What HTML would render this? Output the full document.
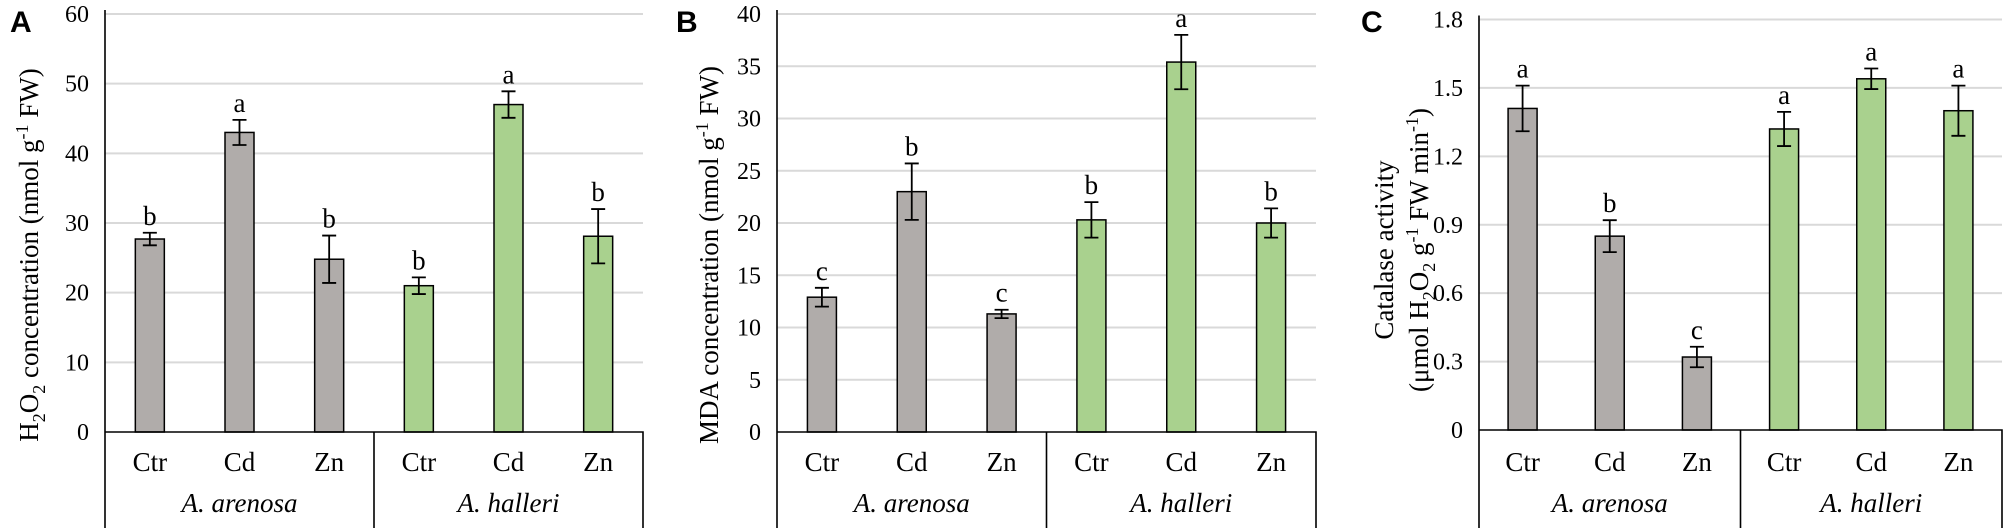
<!DOCTYPE html>
<html><head><meta charset="utf-8"><style>
body{margin:0;background:#fff;}
svg{display:block;font-family:"Liberation Serif",serif;}
</style></head><body>
<svg id="c" width="2008" height="528" viewBox="0 0 2008 528">
<text x="10" y="32" font-family="Liberation Sans,sans-serif" font-weight="bold" font-size="30">A</text>
<text x="676" y="32" font-family="Liberation Sans,sans-serif" font-weight="bold" font-size="30">B</text>
<text x="1361" y="32" font-family="Liberation Sans,sans-serif" font-weight="bold" font-size="30">C</text>
<text transform="translate(38,255) rotate(-90)" text-anchor="middle" font-size="27">H<tspan font-size="18" dy="7">2</tspan><tspan dy="-7">O</tspan><tspan font-size="18" dy="7">2</tspan><tspan dy="-7"> concentration (nmol g</tspan><tspan font-size="18" dy="-10">-1</tspan><tspan dy="10"> FW)</tspan></text>
<text transform="translate(718,255) rotate(-90)" text-anchor="middle" font-size="27">MDA concentration (nmol g<tspan font-size="18" dy="-10">-1</tspan><tspan dy="10"> FW)</tspan></text>
<text transform="translate(1393,250) rotate(-90)" text-anchor="middle" font-size="27">Catalase activity</text>
<text transform="translate(1428,250) rotate(-90)" text-anchor="middle" font-size="27">(μmol H<tspan font-size="18" dy="7">2</tspan><tspan dy="-7">O</tspan><tspan font-size="18" dy="7">2</tspan><tspan dy="-7">  g</tspan><tspan font-size="18" dy="-10">-1</tspan><tspan dy="10"> FW min</tspan><tspan font-size="18" dy="-10">-1</tspan><tspan dy="10">)</tspan></text>
</svg>
<script>
const categories=["Ctr","Cd","Zn","Ctr","Cd","Zn"];
const species=["A. arenosa","A. halleri"];
const h2o2Values=[27.7,43,24.8,21,47,28.1];
const h2o2Errors=[0.9,1.8,3.4,1.2,1.9,3.9];
const h2o2Letters=["b","a","b","b","a","b"];
const h2o2Ticks=[0,10,20,30,40,50,60];
const mdaValues=[12.9,23,11.3,20.3,35.4,20];
const mdaErrors=[0.9,2.7,0.4,1.7,2.6,1.4];
const mdaLetters=["c","b","c","b","a","b"];
const mdaTicks=[0,5,10,15,20,25,30,35,40];
const catValues=[1.41,0.85,0.32,1.32,1.54,1.40];
const catErrors=[0.1,0.07,0.045,0.075,0.045,0.11];
const catLetters=["a","b","c","a","a","a"];
const catTicks=["0","0.3","0.6","0.9","1.2","1.5","1.8"];
const NS="http://www.w3.org/2000/svg";
const svg=document.getElementById('c');
function mk(t,a,p){const e=document.createElementNS(NS,t);for(const k in a)e.setAttribute(k,a[k]);(p||svg).appendChild(e);return e;}
function panel(id,x0,x1,y0,yTop,ticks,vals,errs,letters){
  const g=mk('g',{});
  
  
  const tmax=parseFloat(ticks[ticks.length-1]);
  const ys=v=>y0-(v/tmax)*(y0-yTop);
  ticks.forEach(t=>{const v=parseFloat(t);const y=ys(v);
    if(v>0){const l=mk('line',{x1:x0,x2:x1,y1:y,y2:y,stroke:'#d9d9d9','stroke-width':2},g);
      }
    const tx=mk('text',{x:x0-16,y:y+8,'text-anchor':'end','font-size':24,fill:'#000'},g);tx.textContent=t;
    });
  const cw=(x1-x0)/categories.length;
  vals.forEach((v,i)=>{const cx=x0+cw*(i+0.5);const bw=29;
    const r=mk('rect',{x:cx-bw/2,y:ys(v),width:bw,height:y0-ys(v),fill:i<3?'#b0acaa':'#a9d18e',stroke:'#000','stroke-width':1.5},g);
    
    const e=errs[i],yt=ys(v+e),yb=ys(v-e);
    const eb=mk('path',{d:`M${cx} ${yt}V${yb}M${cx-7} ${yt}H${cx+7}M${cx-7} ${yb}H${cx+7}`,stroke:'#000','stroke-width':1.8,fill:'none'},g);
    
    const lt=mk('text',{x:cx,y:yt-8,'text-anchor':'middle','font-size':27},g);lt.textContent=letters[i];
    
    const cl=mk('text',{x:cx,y:471,'text-anchor':'middle','font-size':27},g);cl.textContent=categories[i];
    });
  const xm=(x0+x1)/2;
  const ax=mk('path',{d:`M${x0} ${yTop-4}V528M${x0} ${y0}H${x1}V528M${xm} ${y0}V528`,stroke:'#000','stroke-width':1.6,fill:'none'},g);
  
  species.forEach((s,k)=>{const t=mk('text',{x:x0+(x1-x0)*(0.25+0.5*k),y:512,'text-anchor':'middle','font-size':27,'font-style':'italic'},g);t.textContent=s;
    });
}
panel('h2o2',105,643,432,14,h2o2Ticks.map(String),h2o2Values,h2o2Errors,h2o2Letters);
panel('mda',777,1316,432,14,mdaTicks.map(String),mdaValues,mdaErrors,mdaLetters);
panel('catalase',1479,2002,430,19.5,catTicks,catValues,catErrors,catLetters);
</script>
</body></html>
